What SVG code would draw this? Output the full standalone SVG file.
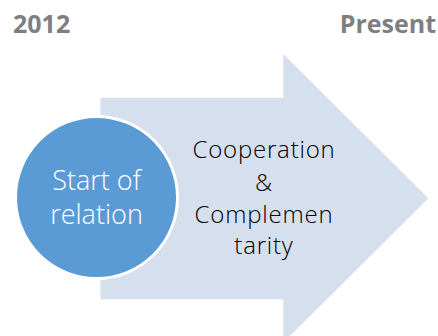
<svg xmlns="http://www.w3.org/2000/svg" width="438" height="336" viewBox="0 0 438 336">
  <style>
    .year { font-family: "Open Sans", "Liberation Sans", sans-serif; font-weight: 700; font-size: 25px; fill: #7F7F7F; }
    .arrow { fill: #D5DFEE; }
    .disc { fill: #5B9BD5; stroke: #FFFFFF; stroke-width: 3; }
    .disc-label { font-family: "Open Sans", "Liberation Sans", sans-serif; font-weight: 300; font-size: 27px; fill: #FFFFFF; text-anchor: middle; }
    .arrow-label { font-family: "Open Sans", "Liberation Sans", sans-serif; font-weight: 300; font-size: 24px; letter-spacing: 0.8px; fill: #000000; text-anchor: middle; }
  </style>
  <rect width="438" height="336" fill="#FFFFFF"/>

  <!-- timeline endpoints -->
  <g id="label-start">
    <text class="year" x="13" y="33">2012</text>
  </g>
  <g id="label-end">
    <text class="year" x="436" y="33" text-anchor="end">Present</text>
  </g>

  <!-- block arrow -->
  <g id="arrow">
    <polygon class="arrow" points="100.5,97.7 283.3,97.7 283.3,54 428.3,198.3 283.3,342.6 283.3,299.2 100.5,299.2"/>
    <text class="arrow-label" x="264" y="158">Cooperation</text>
    <text class="arrow-label" x="264" y="191">&amp;</text>
    <text class="arrow-label" x="264" y="223">Complemen</text>
    <text class="arrow-label" x="264" y="254">tarity</text>
  </g>

  <!-- starting point -->
  <g id="start">
    <circle class="disc" cx="96.5" cy="197.5" r="81"/>
    <text class="disc-label" x="96.5" y="190">Start of</text>
    <text class="disc-label" x="96.5" y="224">relation</text>
  </g>

  <g id="connectors"/>
</svg>
